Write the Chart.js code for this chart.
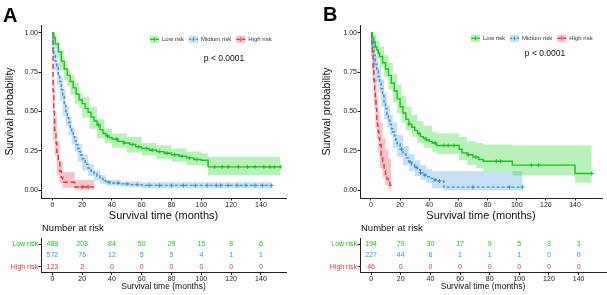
<!DOCTYPE html>
<html>
<head>
<meta charset="utf-8">
<script src="https://cdn.jsdelivr.net/npm/chart.js@4.4.1/dist/chart.umd.min.js"></script>
<style>
  body { margin: 0; background: #fff; width: 607px; height: 295px; position: relative; overflow: hidden; }
  canvas { position: absolute; }
</style>
</head>
<body>
<canvas id="mainA" width="300" height="223" style="left:0;top:0"></canvas>
<canvas id="riskA" width="300" height="73" style="left:0;top:222px"></canvas>
<canvas id="mainB" width="290" height="223" style="left:317px;top:0"></canvas>
<canvas id="riskB" width="290" height="73" style="left:317px;top:222px"></canvas>
<script>
// ---- panel A: survival curves (time in months, survival probability) ----
const tLowA = [0, 1, 2, 4, 6, 8, 10, 12, 14, 16, 18, 20, 22, 24, 26, 28, 30, 32, 34, 36, 38, 40, 44, 48, 52, 56, 60, 65, 70, 75, 80, 85, 90, 95, 100, 104.5, 153];
const sLowA = [1, 0.97, 0.93, 0.88, 0.82, 0.77, 0.73, 0.69, 0.65, 0.61, 0.575, 0.55, 0.52, 0.495, 0.465, 0.44, 0.415, 0.385, 0.36, 0.345, 0.335, 0.325, 0.31, 0.3, 0.29, 0.275, 0.265, 0.255, 0.245, 0.235, 0.225, 0.215, 0.205, 0.195, 0.19, 0.148, 0.148];
const ciTLowA = [0, 1, 3, 5, 8, 10, 12, 15, 18, 20, 25, 30, 35, 40, 50, 60, 70, 80, 90, 100, 104.5, 153];
const ciUpLowA = [1, 0.99, 0.94, 0.89, 0.82, 0.77, 0.73, 0.68, 0.62, 0.59, 0.53, 0.45, 0.39, 0.36, 0.34, 0.3, 0.285, 0.265, 0.245, 0.235, 0.21, 0.21];
const ciLoLowA = [0.97, 0.9, 0.84, 0.76, 0.7, 0.66, 0.61, 0.55, 0.52, 0.46, 0.39, 0.33, 0.3, 0.27, 0.24, 0.22, 0.2, 0.18, 0.16, 0.15, 0.095, 0.095];
const censLowA = [31, 37, 43, 48, 54, 58, 63, 67, 72, 77, 82, 87, 92, 97, 109, 114, 118, 125, 131, 136, 142, 146, 149, 153];

const tMidA = [0, 0.5, 1, 2, 3, 4, 5, 6, 7, 8, 9, 10, 11, 12, 13, 14, 15, 16, 17, 18, 19, 20, 22, 24, 26, 28, 30, 32, 34, 36, 40, 46, 52, 60, 147];
const sMidA = [1, 0.9, 0.86, 0.82, 0.78, 0.73, 0.69, 0.64, 0.6, 0.55, 0.5, 0.46, 0.43, 0.4, 0.37, 0.34, 0.315, 0.29, 0.265, 0.245, 0.225, 0.2, 0.165, 0.14, 0.12, 0.105, 0.09, 0.075, 0.06, 0.05, 0.045, 0.04, 0.035, 0.03, 0.03];
const ciTMidA = [0, 1, 3, 5, 7, 9, 11, 13, 15, 17, 20, 24, 28, 32, 36, 46, 60, 147];
const ciUpMidA = [1, 0.89, 0.81, 0.72, 0.64, 0.54, 0.47, 0.4, 0.345, 0.295, 0.225, 0.165, 0.125, 0.095, 0.065, 0.055, 0.05, 0.05];
const ciLoMidA = [0.85, 0.76, 0.67, 0.57, 0.47, 0.41, 0.35, 0.29, 0.245, 0.18, 0.125, 0.09, 0.06, 0.04, 0.03, 0.022, 0.012, 0.012];
const censMidA = [38, 44, 50, 57, 65, 72, 80, 88, 96, 104, 110, 113, 118, 124, 130, 136, 141, 147];

const tHighA = [0, 0.5, 1, 1.5, 2.5, 3, 4, 5, 6, 7, 15, 28];
const sHighA = [1, 0.63, 0.5, 0.38, 0.3, 0.24, 0.18, 0.12, 0.08, 0.05, 0.02, 0.02];
const ciTHighA = [0, 0.5, 1.5, 3, 5, 7, 15, 28];
const ciUpHighA = [1, 0.71, 0.46, 0.31, 0.18, 0.115, 0.065, 0.065];
const ciLoHighA = [0.55, 0.32, 0.22, 0.1, 0.045, 0.015, 0.003, 0.003];
const censHighA = [20, 24];

// ---- panel B ----
const tLowB = [0, 1, 2, 3, 4, 5, 6, 8, 10, 12, 14, 16, 18, 20, 22, 24, 26, 28, 30, 32, 34, 36, 38, 40, 42, 45, 60.5, 62.5, 66, 70, 74, 77, 97, 140, 151.5];
const sLowB = [1, 0.97, 0.94, 0.91, 0.89, 0.87, 0.85, 0.81, 0.77, 0.73, 0.68, 0.63, 0.58, 0.53, 0.49, 0.45, 0.42, 0.4, 0.38, 0.36, 0.34, 0.33, 0.32, 0.31, 0.3, 0.284, 0.26, 0.237, 0.225, 0.21, 0.195, 0.184, 0.159, 0.106, 0.106];
const ciTLowB = [0, 2, 4, 6, 9, 12, 15, 18, 21, 24, 28, 32, 36, 42, 45, 60.5, 66, 72, 77, 97, 140, 151.5];
const ciUpLowB = [1, 0.99, 0.95, 0.91, 0.86, 0.81, 0.74, 0.67, 0.6, 0.53, 0.48, 0.44, 0.41, 0.37, 0.36, 0.34, 0.31, 0.3, 0.29, 0.284, 0.284, 0.284];
const ciLoLowB = [0.93, 0.88, 0.84, 0.78, 0.72, 0.64, 0.56, 0.49, 0.43, 0.38, 0.34, 0.3, 0.27, 0.245, 0.23, 0.19, 0.16, 0.14, 0.12, 0.093, 0.047, 0.047];
const censLowB = [26, 33, 38, 44, 50, 53, 57, 67, 72, 86, 89, 110, 115, 151.5];

const tMidB = [0, 0.5, 1, 2, 3, 4, 5, 6, 7, 8, 9, 10, 11, 12, 13, 14, 15, 16, 17, 18, 20, 22, 24, 26, 28, 30, 32, 34, 36, 38, 40, 43, 46, 50, 104];
const sMidB = [1, 0.95, 0.91, 0.86, 0.8, 0.76, 0.72, 0.68, 0.645, 0.6, 0.56, 0.52, 0.48, 0.445, 0.42, 0.39, 0.37, 0.345, 0.32, 0.295, 0.26, 0.23, 0.205, 0.18, 0.16, 0.145, 0.13, 0.11, 0.095, 0.085, 0.075, 0.065, 0.058, 0.019, 0.019];
const ciTMidB = [0, 1, 3, 5, 7, 9, 11, 13, 15, 18, 22, 26, 30, 34, 38, 42, 50, 104];
const ciUpMidB = [1, 0.95, 0.85, 0.78, 0.7, 0.62, 0.54, 0.48, 0.43, 0.35, 0.28, 0.23, 0.19, 0.16, 0.135, 0.12, 0.12, 0.12];
const ciLoMidB = [0.9, 0.78, 0.69, 0.62, 0.53, 0.45, 0.4, 0.35, 0.27, 0.21, 0.16, 0.12, 0.09, 0.065, 0.045, 0.01, 0, 0];
const censMidB = [21, 27, 31, 34, 37, 44, 47, 70, 95, 104];

const tHighB = [0, 0.5, 1, 1.5, 2, 2.5, 3, 3.5, 4, 4.5, 5, 5.5, 6, 7, 8, 9, 10, 11, 12, 13, 14];
const sHighB = [1, 0.93, 0.87, 0.78, 0.7, 0.63, 0.57, 0.52, 0.45, 0.41, 0.37, 0.33, 0.29, 0.22, 0.17, 0.13, 0.1, 0.07, 0.05, 0.03, 0.015];
const ciTHighB = [0, 1, 2, 3, 4, 5, 6, 8, 10, 12, 14];
const ciUpHighB = [1, 0.96, 0.84, 0.7, 0.6, 0.5, 0.43, 0.33, 0.26, 0.2, 0.12];
const ciLoHighB = [0.85, 0.68, 0.53, 0.4, 0.33, 0.24, 0.14, 0.08, 0.03, 0.005, 0];
const censHighB = [];

// ---- number at risk ----
const riskTimes = [0, 20, 40, 60, 80, 100, 120, 140];
const riskLowA = [489, 203, 84, 50, 29, 15, 8, 6];
const riskMidA = [572, 76, 12, 5, 5, 4, 1, 1];
const riskHighA = [123, 2, 0, 0, 0, 0, 0, 0];
const riskLowB = [194, 79, 30, 17, 9, 5, 3, 3];
const riskMidB = [227, 44, 6, 1, 1, 1, 0, 0];
const riskHighB = [46, 0, 0, 0, 0, 0, 0, 0];

const yTicks = [0, 0.25, 0.5, 0.75, 1];
const legendLabels = ['Low risk', 'Midium risk', 'High risk'];
const rowLabels = ['Low risk', 'Middle risk', 'High risk'];
const pText = 'p < 0.0001';

const FONT = "'Liberation Sans', Arial, sans-serif";
Chart.defaults.font.family = FONT;
Chart.defaults.color = '#222';

const KEYS = ['low', 'mid', 'high'];
const COL = { low: '#19c319', mid: '#3a93cf', high: '#d43a45' };
const BAND = { low: 'rgba(40,215,40,0.33)', mid: 'rgba(80,165,225,0.33)', high: 'rgba(235,80,95,0.35)' };
const DASH = { low: [], mid: [3, 2], high: [5, 3] };

function pts(ts, ss) { return ts.map((t, i) => ({ x: t, y: ss[i] })); }
function stepAt(ts, ss, t) {
  let v = ss[0];
  for (let i = 0; i < ts.length; i++) if (ts[i] <= t) v = ss[i];
  return v;
}

const decor = {
  id: 'decor',
  afterDraw(chart, args, o) {
    const c = chart.ctx;
    c.save();
    c.fillStyle = '#000';
    c.font = 'bold 20px ' + FONT;
    c.textBaseline = 'alphabetic';
    c.fillText(o.letter, o.letterX, o.letterY);

    c.font = '6px ' + FONT;
    c.textBaseline = 'middle';
    let x = o.legendX;
    const y = o.legendY;
    KEYS.forEach((k, i) => {
      c.fillStyle = BAND[k];
      c.fillRect(x, y - 3.5, 9, 7);
      c.strokeStyle = COL[k];
      c.lineWidth = 1.2;
      c.setLineDash(DASH[k].map(d => d * 0.7));
      c.beginPath(); c.moveTo(x, y); c.lineTo(x + 9, y); c.stroke();
      c.setLineDash([]);
      c.lineWidth = 1;
      c.beginPath(); c.moveTo(x + 4.5, y - 2); c.lineTo(x + 4.5, y + 2); c.stroke();
      c.fillStyle = '#333';
      c.fillText(legendLabels[i], x + 12, y);
      x += 12 + c.measureText(legendLabels[i]).width + 5;
    });

    c.font = '8.5px ' + FONT;
    c.textAlign = 'center';
    c.fillStyle = '#111';
    c.fillText(pText, o.pX, o.pY);
    c.restore();
  }
};

const riskText = {
  id: 'riskText',
  afterDatasetsDraw(chart, args, o) {
    const c = chart.ctx;
    c.save();
    c.font = '7px ' + FONT;
    c.textAlign = 'center';
    c.textBaseline = 'middle';
    chart.data.datasets.forEach((ds, i) => {
      c.fillStyle = ds.textColor;
      chart.getDatasetMeta(i).data.forEach((el, j) => c.fillText(String(ds.counts[j]), el.x, el.y));
    });
    c.font = '9.5px ' + FONT;
    c.textAlign = 'left';
    c.fillStyle = '#111';
    c.fillText('Number at risk', chart.chartArea.left + 1, o.titleY);
    c.restore();
  }
};

function gridOpts() {
  return { display: true, drawOnChartArea: false, drawTicks: true, tickLength: 2.5, color: '#222', lineWidth: 1 };
}

function xAxis(min, max, height, titleSize, titlePad) {
  return {
    type: 'linear', min, max,
    afterBuildTicks: s => { s.ticks = riskTimes.map(v => ({ value: v })); },
    afterFit: s => { s.height = height; },
    grid: gridOpts(),
    border: { display: true, color: '#222', width: 1 },
    ticks: { font: { size: 7 }, padding: 0, maxRotation: 0, autoSkip: false },
    title: { display: true, text: 'Survival time (months)', color: '#111', font: { size: titleSize }, padding: { top: 0, bottom: titlePad } }
  };
}

function makeMain(id, p) {
  const datasets = [];
  p.groups.forEach(g => datasets.push({
    data: g.cens.map(t => ({ x: t, y: stepAt(g.t, g.s, t) })),
    showLine: false, pointStyle: 'cross', pointRadius: 2, pointBorderWidth: 1,
    pointBorderColor: COL[g.key], borderColor: COL[g.key]
  }));
  p.groups.forEach(g => datasets.push({
    data: pts(g.t, g.s), stepped: 'before', borderColor: COL[g.key], borderWidth: 1.4,
    borderDash: DASH[g.key], pointRadius: 0, fill: false
  }));
  p.groups.forEach(g => {
    datasets.push({ data: pts(g.ciT, g.ciUp), stepped: 'before', borderWidth: 0, pointRadius: 0, fill: '+1', backgroundColor: BAND[g.key] });
    datasets.push({ data: pts(g.ciT, g.ciLo), stepped: 'before', borderWidth: 0, pointRadius: 0, fill: false });
  });
  return new Chart(document.getElementById(id), {
    type: 'line',
    data: { datasets },
    options: {
      responsive: false, animation: false, maintainAspectRatio: false,
      layout: { padding: { top: 25, right: p.padRight, left: 0, bottom: 0 } },
      plugins: { legend: { display: false }, tooltip: { enabled: false }, decor: p.decor },
      scales: {
        x: xAxis(p.xMin, p.xMax, 25, 11, 0.4),
        y: {
          type: 'linear', min: -0.05, max: 1.05,
          afterBuildTicks: s => { s.ticks = yTicks.map(v => ({ value: v })); },
          afterFit: s => { s.width = p.yWidth; },
          grid: gridOpts(),
          border: { display: true, color: '#222', width: 1 },
          ticks: { font: { size: 7 }, padding: 0.5, callback: v => v.toFixed(2) },
          title: { display: true, text: 'Survival probability', color: '#111', font: { size: 10.5 }, padding: { top: 3.7, bottom: 0 } }
        }
      }
    },
    plugins: [decor]
  });
}

function makeRisk(id, p) {
  const datasets = p.rows.map((counts, r) => ({
    data: riskTimes.map(t => ({ x: t, y: rowLabels[r] })),
    counts, textColor: COL[KEYS[r]], showLine: false, pointRadius: 0
  }));
  return new Chart(document.getElementById(id), {
    type: 'line',
    data: { datasets },
    options: {
      responsive: false, animation: false, maintainAspectRatio: false,
      layout: { padding: { top: 16.5, right: p.padRight, left: 0, bottom: 0 } },
      plugins: { legend: { display: false }, tooltip: { enabled: false }, riskText: { titleY: 6.3 } },
      scales: {
        x: xAxis(p.xMin, p.xMax, 22.5, 8.5, 3.2),
        y: {
          type: 'category', labels: rowLabels, offset: true,
          afterFit: s => { s.width = p.yWidth; },
          grid: gridOpts(),
          border: { display: true, color: '#222', width: 1 },
          ticks: { font: { size: 7 }, padding: 0.5, color: c => COL[KEYS[c.index]] }
        }
      }
    },
    plugins: [riskText]
  });
}

makeMain('mainA', {
  xMin: -7.6, xMax: 156.8, yWidth: 41, padRight: 14,
  groups: [
    { key: 'low', t: tLowA, s: sLowA, ciT: ciTLowA, ciUp: ciUpLowA, ciLo: ciLoLowA, cens: censLowA },
    { key: 'mid', t: tMidA, s: sMidA, ciT: ciTMidA, ciUp: ciUpMidA, ciLo: ciLoMidA, cens: censMidA },
    { key: 'high', t: tHighA, s: sHighA, ciT: ciTHighA, ciUp: ciUpHighA, ciLo: ciLoHighA, cens: censHighA }
  ],
  decor: { letter: 'A', letterX: 3, letterY: 22, legendX: 150, legendY: 39.3, pX: 224, pY: 58.3 }
});
makeRisk('riskA', { xMin: -7.6, xMax: 156.8, yWidth: 41, padRight: 14, rows: [riskLowA, riskMidA, riskHighA] });

makeMain('mainB', {
  xMin: -7.5, xMax: 158.5, yWidth: 43, padRight: 1,
  groups: [
    { key: 'low', t: tLowB, s: sLowB, ciT: ciTLowB, ciUp: ciUpLowB, ciLo: ciLoLowB, cens: censLowB },
    { key: 'mid', t: tMidB, s: sMidB, ciT: ciTMidB, ciUp: ciUpMidB, ciLo: ciLoMidB, cens: censMidB },
    { key: 'high', t: tHighB, s: sHighB, ciT: ciTHighB, ciUp: ciUpHighB, ciLo: ciLoHighB, cens: censHighB }
  ],
  decor: { letter: 'B', letterX: 6, letterY: 21, legendX: 154, legendY: 38.3, pX: 228, pY: 54 }
});
makeRisk('riskB', { xMin: -7.5, xMax: 158.5, yWidth: 43, padRight: 1, rows: [riskLowB, riskMidB, riskHighB] });
</script>
</body>
</html>
